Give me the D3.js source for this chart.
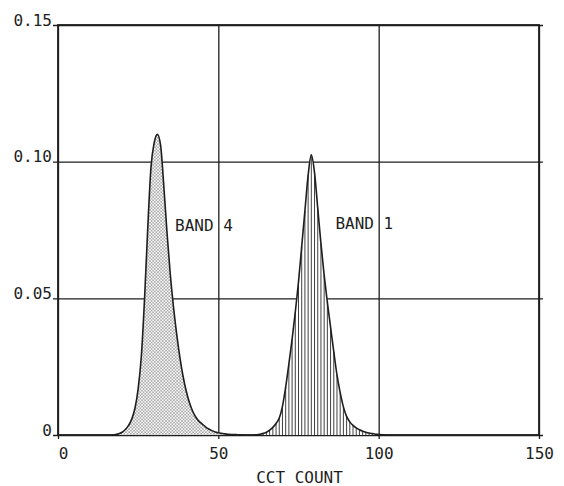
<!DOCTYPE html>
<html>
<head>
<meta charset="utf-8">
<script src="https://cdn.jsdelivr.net/npm/d3@7"></script>
<style>
    body { margin: 0; background: #fff; }
    .label { font-family: "DejaVu Sans Mono", monospace; font-size: 16px; fill: #1e1e1e; }
</style>
</head>
<body>
<div id="chart"></div>
<script>
// CCT count histograms
var band4Counts = [17, 18, 19, 20, 21, 22, 23, 24, 25, 26, 27, 28, 29, 30, 31, 32, 33, 34, 35, 36, 37,
    38, 39, 40, 41, 42, 43, 44, 45, 46, 47, 48, 49, 50, 51, 52, 53, 54, 55, 56, 57, 58];
var band4Values = [0, 0.0002, 0.0005, 0.001, 0.002, 0.0035, 0.0058, 0.0098, 0.017, 0.029, 0.050, 0.076,
    0.098, 0.107, 0.110, 0.106, 0.091, 0.074, 0.059, 0.047, 0.037, 0.0285, 0.0215, 0.016, 0.0118, 0.0087,
    0.0065, 0.005, 0.004, 0.003, 0.0022, 0.0016, 0.0011, 0.0008, 0.0006, 0.0004, 0.0003, 0.0002,
    0.0002, 0.0001, 0.0001, 0];

var band1Counts = [61, 62, 63, 64, 65, 66, 67, 68, 69, 70, 71, 72, 73, 74, 75, 76, 77, 78, 79, 80, 81,
    82, 83, 84, 85, 86, 87, 88, 89, 90, 91, 92, 93, 94, 95, 96, 97, 98, 99, 100, 101, 102];
var band1Values = [0, 0.0001, 0.0003, 0.0006, 0.001, 0.0018, 0.0028, 0.0042, 0.0062, 0.0105, 0.0175, 0.026,
    0.035, 0.045, 0.056, 0.069, 0.082, 0.095, 0.1025, 0.096, 0.083, 0.070, 0.0585, 0.0485, 0.0395, 0.0305,
    0.022, 0.0155, 0.0103, 0.0068, 0.0048, 0.0035, 0.0026, 0.0019, 0.0014, 0.001, 0.0007, 0.0005,
    0.0003, 0.0002, 0.0001, 0];

var xTicks = [0, 50, 100, 150];
var xTickLabels = ["0", "50", "100", "150"];
var yTicks = [0, 0.05, 0.10, 0.15];
var yTickLabels = ["0", "0.05", "0.10", "0.15"];

var bandNames = ["BAND 4", "BAND 1"];
var bandLabelPos = [[36.5, 0.0745], [86.5, 0.0752]];   // in data units
var xTitle = "CCT COUNT";

HistVis = function(_parentElement) {
    this.parentElement = _parentElement;
    this.initVis();
}

HistVis.prototype.initVis = function() {
    var vis = this;

    vis.margin = {top: 25, right: 25, bottom: 51, left: 58};
    vis.width = 564 - vis.margin.left - vis.margin.right;
    vis.height = 486 - vis.margin.top - vis.margin.bottom;

    vis.svg = d3.select("#" + vis.parentElement).append("svg")
        .attr("width", 564)
        .attr("height", 486)
        .append("g")
        .attr("transform", "translate(" + vis.margin.left + "," + vis.margin.top + ")");

    vis.x = d3.scaleLinear().domain([0, 150]).range([0, vis.width]);
    vis.y = d3.scaleLinear().domain([0, 0.15]).range([vis.height, 0]);

    // stipple for band 4
    var defs = vis.svg.append("defs");
    var dots = defs.append("pattern")
        .attr("id", "dots")
        .attr("patternUnits", "userSpaceOnUse")
        .attr("width", 3.2)
        .attr("height", 3.2);
    dots.append("circle").attr("cx", 0.8).attr("cy", 0.8).attr("r", 0.65).attr("fill", "#333");
    dots.append("circle").attr("cx", 2.4).attr("cy", 2.4).attr("r", 0.65).attr("fill", "#333");

    vis.drawAxes();
    vis.drawBands();
}

HistVis.prototype.drawAxes = function() {
    var vis = this;

    var yAxis = d3.axisLeft(vis.y)
        .tickValues(yTicks)
        .tickFormat(function(d, i) { return yTickLabels[i]; })
        .tickSize(-vis.width)
        .tickPadding(6);

    var xAxis = d3.axisBottom(vis.x)
        .tickValues(xTicks)
        .tickFormat(function(d, i) { return xTickLabels[i]; })
        .tickSize(-vis.height)
        .tickPadding(13);

    var gy = vis.svg.append("g").call(yAxis);
    gy.select(".domain").remove();
    gy.selectAll("line")
        .attr("x1", -5)
        .attr("x2", vis.width + 4)
        .attr("stroke", "#1e1e1e")
        .attr("stroke-width", 1.3);
    gy.selectAll("text")
        .attr("class", "label")
        .attr("dy", "0")
        .attr("font-family", null)
        .attr("font-size", null);

    var gx = vis.svg.append("g")
        .attr("transform", "translate(0," + vis.height + ")")
        .call(xAxis);
    gx.select(".domain").remove();
    gx.selectAll("line")
        .attr("y1", 4)
        .attr("stroke", "#1e1e1e")
        .attr("stroke-width", 1.3);
    gx.selectAll("text")
        .attr("class", "label")
        .attr("font-family", null)
        .attr("font-size", null);
    gx.select(".tick text").attr("dx", 5);

    // frame
    vis.svg.append("rect")
        .attr("width", vis.width)
        .attr("height", vis.height)
        .attr("fill", "none")
        .attr("stroke", "#1e1e1e")
        .attr("stroke-width", 1.8);

    vis.svg.append("text")
        .attr("class", "label")
        .attr("x", vis.width / 2 + 1)
        .attr("y", vis.height + 48)
        .attr("text-anchor", "middle")
        .text(xTitle);
}

HistVis.prototype.drawBands = function() {
    var vis = this;

    var area = d3.area()
        .x(function(d) { return vis.x(d[0]); })
        .y0(vis.y(0))
        .y1(function(d) { return vis.y(d[1]); })
        .curve(d3.curveMonotoneX);

    var line = d3.line()
        .x(function(d) { return vis.x(d[0]); })
        .y(function(d) { return vis.y(d[1]); })
        .curve(d3.curveMonotoneX);

    var band4 = d3.zip(band4Counts, band4Values);
    var band1 = d3.zip(band1Counts, band1Values);

    // band 4: stippled
    vis.svg.append("path")
        .datum(band4)
        .attr("fill", "#fff")
        .attr("d", area);
    vis.svg.append("path")
        .datum(band4)
        .attr("fill", "url(#dots)")
        .attr("d", area);

    // band 1: one vertical line per count
    vis.svg.append("path")
        .datum(band1)
        .attr("fill", "#fff")
        .attr("d", area);
    vis.svg.selectAll(".hatch")
        .data(band1.filter(function(d) { return d[1] > 0.0004; }))
        .enter()
        .append("line")
        .attr("class", "hatch")
        .attr("x1", function(d) { return vis.x(d[0]); })
        .attr("x2", function(d) { return vis.x(d[0]); })
        .attr("y1", vis.y(0))
        .attr("y2", function(d) { return vis.y(d[1]); })
        .attr("stroke", "#2a2a2a")
        .attr("stroke-width", 0.9);

    [band4, band1].forEach(function(b) {
        vis.svg.append("path")
            .datum(b)
            .attr("fill", "none")
            .attr("stroke", "#1e1e1e")
            .attr("stroke-width", 1.6)
            .attr("d", line);
    });

    vis.svg.selectAll(".band-name")
        .data(bandNames)
        .enter()
        .append("text")
        .attr("class", "label band-name")
        .attr("x", function(d, i) { return vis.x(bandLabelPos[i][0]); })
        .attr("y", function(d, i) { return vis.y(bandLabelPos[i][1]); })
        .text(function(d) { return d; });
}

new HistVis("chart");
</script>
</body>
</html>
